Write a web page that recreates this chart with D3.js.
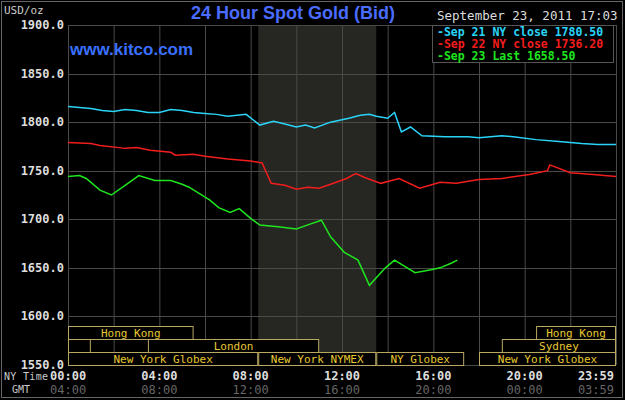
<!DOCTYPE html>
<html><head><meta charset="utf-8">
<script src="https://cdn.jsdelivr.net/npm/d3@7"></script>
<style>body{margin:0;background:#fff}svg{display:block}</style>
</head><body><svg id="c" width="625" height="400"></svg>
<script>
// hours since NY midnight, bid price
var sep21 = [[0,1816],[0.5,1815],[1,1814],[1.5,1812],[2,1811],[2.5,1813],[3,1812],[3.5,1810],[4,1810],[4.5,1813],[5,1812],[5.5,1810],[6,1809],[6.5,1808],[7,1806],[7.8,1808],[8.4,1797],[9,1801],[9.5,1798],[10,1795],[10.4,1797],[10.8,1794],[11.5,1800],[12.3,1804],[12.8,1807],[13.2,1808],[13.5,1806],[14,1804],[14.3,1810],[14.6,1790],[15,1795],[15.5,1786],[16.5,1785],[17.5,1785],[18,1784],[19,1786],[19.5,1785],[20.5,1782],[21.5,1780],[22.5,1778],[23.2,1777],[24,1777]];
var sep22 = [[0,1779],[1,1778],[1.4,1776],[2.5,1773],[3,1774],[3.6,1771],[4.5,1769],[4.7,1766],[5.5,1767],[6,1765],[7,1762],[8,1760],[8.5,1758],[8.9,1737],[9.5,1735],[10,1731],[10.5,1733],[11,1732],[11.5,1736],[12.2,1742],[12.6,1747],[13,1743],[13.7,1737],[14.5,1742],[15.4,1732],[16.3,1738],[17,1737],[18,1741],[19,1742],[20.2,1746],[21,1750],[21.1,1756],[22,1748],[23,1746],[24,1744]];
var sep23 = [[0,1744],[0.5,1745],[0.8,1742],[1.4,1730],[1.9,1725],[2.5,1735],[3.1,1745],[3.8,1740],[4.5,1740],[5,1736],[5.3,1733],[6.2,1720],[6.6,1712],[7.1,1707],[7.5,1711],[8,1701],[8.4,1694],[9.3,1692],[10,1690],[10.6,1695],[11.1,1699],[11.5,1682],[12.1,1666],[12.7,1658],[13.2,1632],[13.9,1650],[14.3,1658],[15.2,1645],[15.9,1648],[16.3,1650],[16.8,1655],[17.05,1658]];
var yTicks = [1550,1600,1650,1700,1750,1800,1850,1900];
var nyLabels = ["00:00","04:00","08:00","12:00","16:00","20:00","23:59"];
var gmtLabels = ["04:00","08:00","12:00","16:00","20:00","00:00","03:59"];
var legend = [["Sep 21 NY close 1780.50","#2ad4f8"],["Sep 22 NY close 1736.20","#f21d1d"],["Sep 23 Last 1658.50","#1ee51e"]];
// sessions: [row, start hour, end hour, label]
var sessions = [[0,0,5.5,"Hong Kong"],[0,20.5,24,"Hong Kong"],[1,0,1,""],[1,3.5,11,"London"],[1,19,24,"Sydney"],
  [2,0,8.33,"New York Globex"],[2,8.33,13.5,"New York NYMEX"],[2,13.5,17.35,"NY Globex"],[2,18,24,"New York Globex"]];

var mono = "'DejaVu Sans Mono', monospace";
var svg = d3.select("#c");
svg.append("rect").attr("width",625).attr("height",400).attr("fill","#000");
svg.append("rect").attr("x",1.5).attr("y",1.5).attr("width",621).attr("height",396).attr("fill","none").attr("stroke","#666");

var x = d3.scaleLinear().domain([0,24]).range([68,616]);
var y = d3.scaleLinear().domain([1550,1900]).range([365,25]);

// shaded NYMEX period
svg.append("rect").attr("x",x(8.33)).attr("y",25).attr("width",x(13.5)-x(8.33)).attr("height",340).attr("fill","#262622");

var grid = svg.append("g").attr("stroke","#4a4a46").attr("stroke-width",1);
d3.range(0,25,2).forEach(function(h){
  grid.append("line").attr("x1",x(h)+0.5).attr("x2",x(h)+0.5).attr("y1",25).attr("y2",365);
});
yTicks.forEach(function(v){
  grid.append("line").attr("x1",68).attr("x2",616).attr("y1",Math.round(y(v))+0.5).attr("y2",Math.round(y(v))+0.5);
  svg.append("text").attr("x",64).attr("y",y(v)+4).attr("text-anchor","end")
    .attr("fill","#ddd").attr("font-family",mono).attr("font-size",12).attr("font-weight","bold").text(v.toFixed(1));
});

// sessions
var rowY = [326,339,352];
sessions.forEach(function(s){
  svg.append("rect").attr("x",x(s[1])+0.5).attr("y",rowY[s[0]]+0.5).attr("width",x(s[2])-x(s[1])-1).attr("height",13)
    .attr("fill","#000").attr("stroke","#b8a860");
  svg.append("text").attr("x",(x(s[1])+x(s[2]))/2).attr("y",rowY[s[0]]+10.5).attr("text-anchor","middle")
    .attr("fill","#e8c830").attr("font-family",mono).attr("font-size",11).text(s[3]);
});

var line = d3.line().x(function(d){return x(d[0]);}).y(function(d){return y(d[1]);});
[[sep21,legend[0][1]],[sep22,legend[1][1]],[sep23,legend[2][1]]].forEach(function(p){
  svg.append("path").datum(p[0]).attr("d",line).attr("fill","none").attr("stroke",p[1]).attr("stroke-width",1.5);
});

// axis labels
nyLabels.forEach(function(t,i){
  var h = i==6 ? 24 : i*4;
  var xx = i==0 ? x(h)-18 : (i==6 ? x(h)-2 : x(h));
  var anchor = i==0 ? "start" : (i==6 ? "end" : "middle");
  svg.append("text").attr("x",xx).attr("y",380).attr("text-anchor",anchor)
    .attr("fill","#ddd").attr("font-family",mono).attr("font-size",12).attr("font-weight","bold").text(t);
  svg.append("text").attr("x",xx).attr("y",394).attr("text-anchor",anchor)
    .attr("fill","#666").attr("font-family",mono).attr("font-size",12).text(gmtLabels[i]);
});
svg.append("text").attr("x",4).attr("y",380).attr("fill","#ccc").attr("font-family",mono).attr("font-size",10).attr("textLength",44).text("NY Time");
svg.append("text").attr("x",12).attr("y",393).attr("fill","#ccc").attr("font-family",mono).attr("font-size",10).text("GMT");
svg.append("text").attr("x",4).attr("y",14).attr("fill","#ccc").attr("font-family",mono).attr("font-size",11).text("USD/oz");

svg.append("text").attr("x",293).attr("y",19).attr("text-anchor","middle").attr("fill","#4a6cff")
  .attr("font-family","'Liberation Sans', Arial, sans-serif").attr("font-size",18).attr("font-weight","bold").text("24 Hour Spot Gold (Bid)");
svg.append("text").attr("x",70).attr("y",55).attr("fill","#3a70ff")
  .attr("font-family","'Liberation Sans', Arial, sans-serif").attr("font-size",17).attr("font-weight","bold").text("www.kitco.com");

svg.append("text").attr("x",437).attr("y",20).attr("fill","#ddd").attr("font-family",mono).attr("font-size",12.5).text("September 23, 2011 17:03");
svg.append("rect").attr("x",432.5).attr("y",25.5).attr("width",181).attr("height",37).attr("fill","#000").attr("stroke","#555");
legend.forEach(function(l,i){
  svg.append("text").attr("x",437).attr("y",36+i*12).attr("fill",l[1]).attr("font-family",mono).attr("font-size",11.5).attr("font-weight","bold").text("-"+l[0]);
});
</script></body></html>
